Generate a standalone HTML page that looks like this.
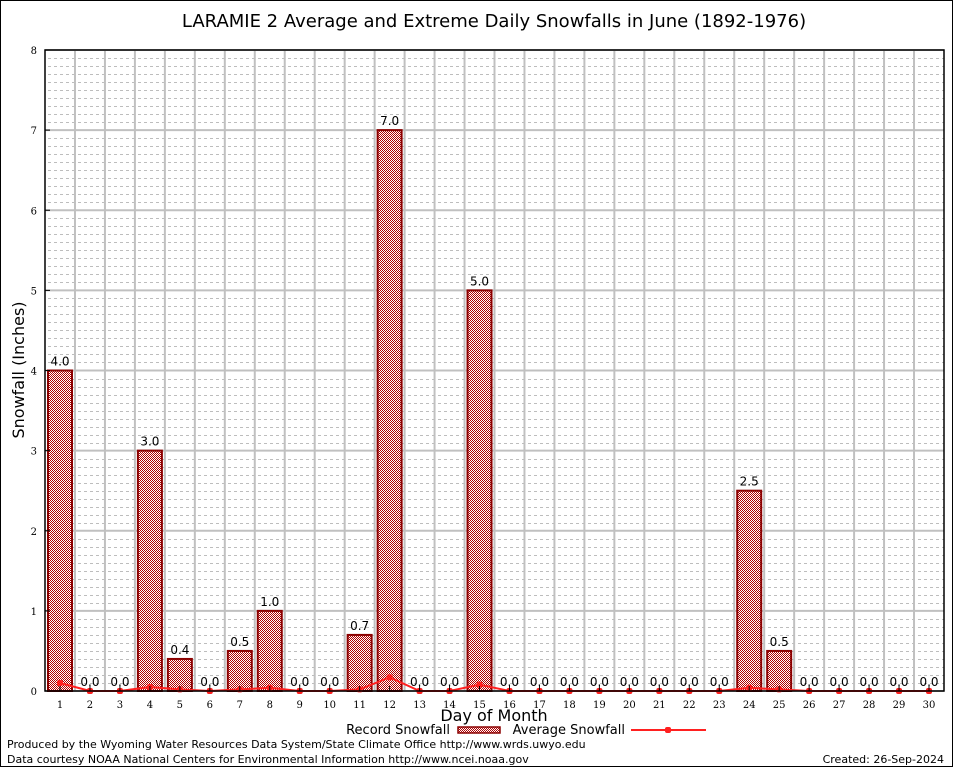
<!DOCTYPE html>
<html><head><meta charset="utf-8"><style>
html,body{margin:0;padding:0;background:#fff;}
svg{display:block;}
</style></head><body>
<svg id="chart" width="954" height="768" viewBox="0 0 954 768" xmlns="http://www.w3.org/2000/svg">
<defs>
<pattern id="chk" width="2" height="2" patternUnits="userSpaceOnUse">
<rect width="2" height="2" fill="#fff"/>
<rect width="1" height="1" fill="#b00000"/>
<rect x="1" y="1" width="1" height="1" fill="#b00000"/>
</pattern>
</defs>
<rect x="0.5" y="0.5" width="952" height="766" fill="#fff" stroke="#000"/>
<text x="494" y="27" font-family="'DejaVu Sans',sans-serif" font-size="18" text-anchor="middle">LARAMIE 2 Average and Extreme Daily Snowfalls in June (1892-1976)</text>
<g id="grid"></g>
<g id="bars"></g>
<g id="avg"></g>
<g id="axes"></g>
<text x="24" y="370" transform="rotate(-90 24 370)" font-family="'DejaVu Sans',sans-serif" font-size="16" text-anchor="middle">Snowfall (Inches)</text>
<text x="494" y="721" font-family="'DejaVu Sans',sans-serif" font-size="16" text-anchor="middle">Day of Month</text>
<g>
<text x="450" y="734" font-family="'DejaVu Sans',sans-serif" font-size="13" text-anchor="end">Record Snowfall</text>
<rect x="458" y="727" width="42" height="6" fill="url(#chk)" stroke="#8b0000" stroke-width="1.5"/>
<text x="625" y="734" font-family="'DejaVu Sans',sans-serif" font-size="13" text-anchor="end">Average Snowfall</text>
<line x1="631" y1="730" x2="706" y2="730" stroke="#ff2020" stroke-width="2"/>
<rect x="665" y="727" width="6" height="6" rx="2" fill="#ff2020"/>
</g>
<text x="7" y="748" font-family="'DejaVu Sans',sans-serif" font-size="11">Produced by the Wyoming Water Resources Data System/State Climate Office http://www.wrds.uwyo.edu</text>
<text x="7" y="763" font-family="'DejaVu Sans',sans-serif" font-size="11">Data courtesy NOAA National Centers for Environmental Information http://www.ncei.noaa.gov</text>
<text x="944" y="763" font-family="'DejaVu Sans',sans-serif" font-size="11" text-anchor="end">Created: 26-Sep-2024</text>
</svg>
<script>
const days = [1,2,3,4,5,6,7,8,9,10,11,12,13,14,15,16,17,18,19,20,21,22,23,24,25,26,27,28,29,30];
const recordSnow = [4.0,0,0,3.0,0.4,0,0.5,1.0,0,0,0.7,7.0,0,0,5.0,0,0,0,0,0,0,0,0,2.5,0.5,0,0,0,0,0];
const avgSnow = [0.1,0,0,0.05,0.02,0,0.02,0.04,0,0,0.02,0.17,0,0,0.08,0,0,0,0,0,0,0,0,0.04,0.02,0,0,0,0,0];
const yTicks = [0,1,2,3,4,5,6,7,8];

const NS='http://www.w3.org/2000/svg';
const L=45,R=944,T=50,B=691,yMax=8,SUB=10;
const xs=d=>60+(d-1)*(929-60)/29;
const ys=v=>B-(v/yMax)*(B-T);
function mk(tag,attrs,parent){const e=document.createElementNS(NS,tag);for(const k in attrs)e.setAttribute(k,attrs[k]);parent.appendChild(e);return e;}
const grid=document.getElementById('grid'),bars=document.getElementById('bars'),avg=document.getElementById('avg'),axes=document.getElementById('axes');
for(let i=0;i<yMax*SUB;i++){if(i%SUB===0)continue;const y=Math.round(ys(i/SUB))+0.5;
const ln=mk('line',{x1:L+3,x2:R,y1:y,y2:y,stroke:'#bdbdbd','stroke-width':1,'stroke-dasharray':'3,3'},grid);

}
yTicks.forEach(v=>{const y=ys(v);
const ln=mk('line',{x1:L,x2:R,y1:y,y2:y,stroke:'#c0c0c0','stroke-width':2},grid);


const t=mk('text',{x:L-8,y:y+4,'font-family':"'DejaVu Serif',serif",'font-size':10,'text-anchor':'end'},axes);t.textContent=v;


const tk=mk('line',{x1:L,x2:L+5,y1:y,y2:y,stroke:'#000'},axes);

});
days.forEach(d=>{if(d===days.length)return;const x=(xs(d)+xs(d+1))/2;
const ln=mk('line',{x1:x,x2:x,y1:T,y2:B,stroke:'#c0c0c0','stroke-width':2},grid);

});
days.forEach((d,i)=>{const v=recordSnow[i];const x=xs(d);
if(v>0){const r=mk('rect',{x:x-12,y:ys(v),width:24,height:B-ys(v),fill:'url(#chk)',stroke:'#8b0000','stroke-width':2},bars);

}
const t=mk('text',{x:x,y:ys(v)-5,'font-family':"'DejaVu Sans',sans-serif",'font-size':12,'text-anchor':'middle'},bars);t.textContent=v.toFixed(1);


const xl=mk('text',{x:x,y:708,'font-family':"'DejaVu Serif',serif",'font-size':10,'text-anchor':'middle'},axes);xl.textContent=d;


const tk=mk('line',{x1:x,x2:x,y1:B,y2:B-5,stroke:'#000'},axes);

});
const pts=days.map((d,i)=>xs(d)+','+ys(avgSnow[i])).join(' ');
const pl=mk('polyline',{points:pts,fill:'none',stroke:'#ff2020','stroke-width':2},avg);


days.forEach((d,i)=>{const c=mk('rect',{x:xs(d)-3,y:ys(avgSnow[i])-3,width:6,height:6,rx:2,fill:'#ff2020'},avg);

});
const fr=mk('rect',{x:L,y:T,width:R-L,height:B-T,fill:'none',stroke:'#000','stroke-width':1.5},axes);


</script>
</body></html>
